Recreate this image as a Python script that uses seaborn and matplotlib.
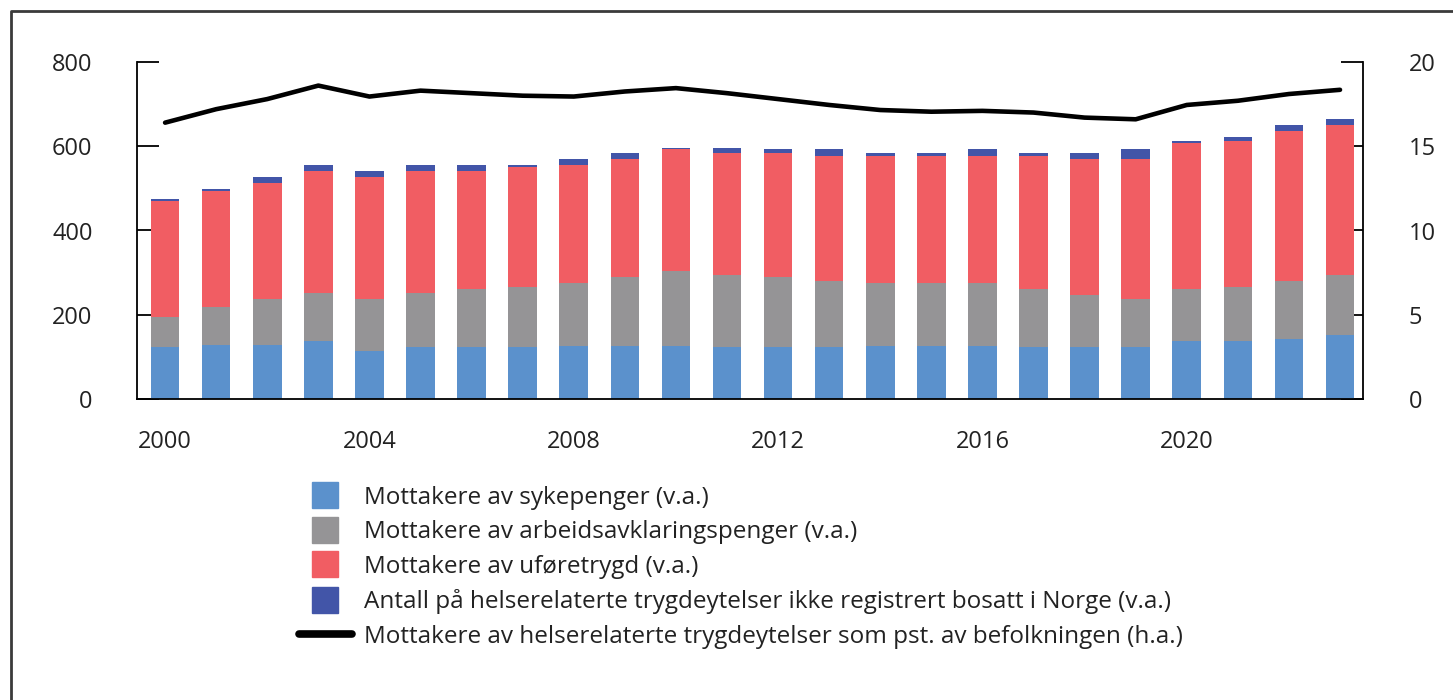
import numpy as np
import matplotlib.pyplot as plt
from matplotlib.lines import Line2D
import seaborn as sns

sns.set_style("white")
plt.rcParams['font.family'] = ['Open Sans', 'DejaVu Sans']

years = list(range(2000, 2024))
sykepenger = [123, 128, 128, 137, 113, 123, 123, 123, 127, 127, 127, 123,
              123, 123, 127, 127, 127, 123, 123, 123, 137, 137, 142, 151]
aap = [71, 90, 109, 114, 124, 128, 137, 142, 148, 162, 176, 171,
       166, 156, 148, 148, 148, 137, 123, 114, 123, 128, 137, 143]
uforetrygd = [275, 275, 275, 290, 289, 290, 281, 285, 280, 280, 290, 289,
              294, 299, 303, 303, 303, 318, 323, 332, 347, 347, 357, 356]
utland = [5, 5, 15, 14, 15, 14, 14, 5, 15, 14, 4, 14,
          10, 15, 5, 5, 15, 5, 14, 24, 5, 9, 14, 14]
pst_befolkning = [16.4, 17.2, 17.8, 18.6, 17.95, 18.3, 18.15, 18.0, 17.95, 18.25, 18.45, 18.15,
                  17.8, 17.45, 17.15, 17.05, 17.1, 17.0, 16.7, 16.6, 17.45, 17.7, 18.1, 18.35]

labels = ["Mottakere av sykepenger (v.a.)",
          "Mottakere av arbeidsavklaringspenger (v.a.)",
          "Mottakere av uføretrygd (v.a.)",
          "Antall på helserelaterte trygdeytelser ikke registrert bosatt i Norge (v.a.)",
          "Mottakere av helserelaterte trygdeytelser som pst. av befolkningen (h.a.)"]
colors = ["#5b91cc", "#959496", "#f15d63", "#4255a8"]
fs = 17

fig = plt.figure(figsize=(14.53, 7), dpi=100)
ax = fig.add_axes([137/1453, 1 - 399/700, (1363 - 137)/1453, (399 - 62)/700])
ax2 = ax.twinx()

# stablede søyler: tegn summene ovenfra og ned
series = [sykepenger, aap, uforetrygd, utland]
cum = np.cumsum(np.array(series), axis=0)
x_cat = [str(y) for y in years]
for i in range(len(series) - 1, -1, -1):
    sns.barplot(x=x_cat, y=cum[i], color=colors[i], width=0.56, errorbar=None,
                saturation=1, ax=ax, linewidth=0)

sns.lineplot(x=np.arange(len(years)), y=pst_befolkning, ax=ax2, color="black",
             linewidth=3.3)

ax.set_zorder(2)
ax2.set_zorder(1)
ax.patch.set_visible(False)

ax.set_xlim(-0.55, 23.45)
ax.set_ylim(0, 800)
ax2.set_ylim(0, 20)
ax.set_yticks([0, 200, 400, 600, 800])
ax2.set_yticks([0, 5, 10, 15, 20])
ax.set_xticks(range(0, 24, 4))
ax.set_xticklabels([str(y) for y in years[::4]])
ax.set_xlabel("")
ax.set_ylabel("")
ax2.set_ylabel("")

for a in (ax, ax2):
    for s in a.spines.values():
        s.set_visible(False)
        s.set_linewidth(1.3)
        s.set_color("black")
ax.spines["left"].set_visible(True)
ax.spines["bottom"].set_visible(True)
ax2.spines["right"].set_visible(True)

ax.tick_params(axis="y", direction="in", length=16, width=1.3, pad=32,
               labelsize=fs, color="black", labelcolor="#222222")
ax.tick_params(axis="x", length=0, pad=22, labelsize=fs, labelcolor="#222222")
ax2.tick_params(axis="y", direction="in", length=16, width=1.3, pad=33,
                labelsize=fs, color="black", labelcolor="#222222")

handles = [Line2D([], [], marker="s", linestyle="none", markersize=19,
                  markerfacecolor=c, markeredgecolor=c) for c in colors]
handles.append(Line2D([], [], color="black", linewidth=5.5))
ax.legend(handles, labels, loc="upper left", bbox_to_anchor=(299/1453, 1 - 486/700),
          bbox_transform=fig.transFigure, frameon=False, fontsize=17.5,
          handlelength=2.18, handletextpad=0.49, labelspacing=0.43,
          borderpad=0, borderaxespad=0, labelcolor="#222222")

# ramme rundt figuren
fig.add_artist(Line2D([11/1453, 11/1453, 1], [0, 1 - 11/700, 1 - 11/700],
                      transform=fig.transFigure, color="#3a3a3a", linewidth=2))

fig.savefig("out.png", dpi=100)
